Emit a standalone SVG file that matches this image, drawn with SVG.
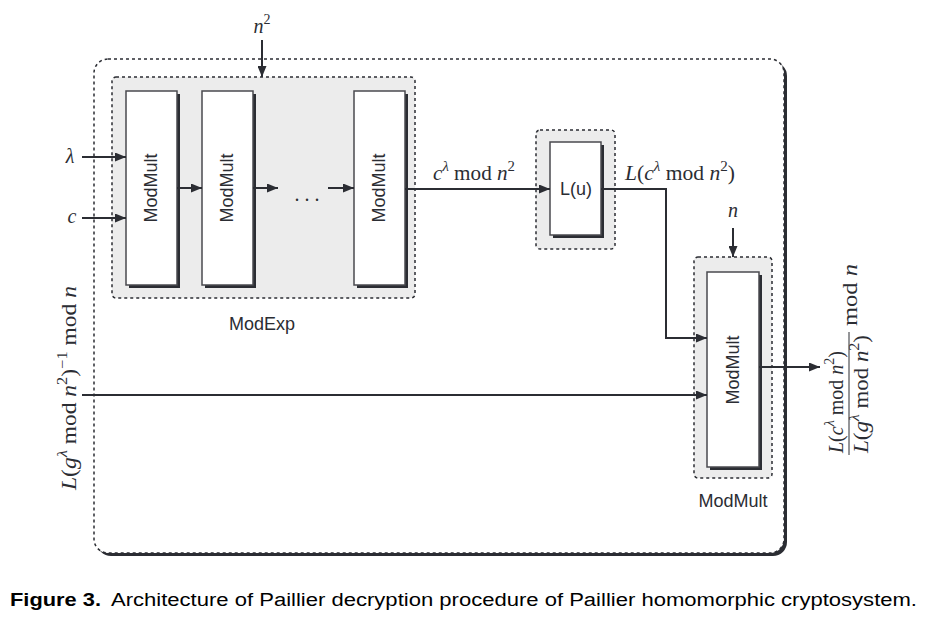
<svg xmlns="http://www.w3.org/2000/svg" width="927" height="621" viewBox="0 0 927 621">
<style>
.shadow{fill:#2b2d33}
.grp{fill:#ececec;stroke:#2b2d33;stroke-width:1.5;stroke-dasharray:3 3}
.outer{fill:#ffffff;stroke:#2b2d33;stroke-width:1.5;stroke-dasharray:3 3}
.box{fill:#ffffff;stroke:#4a4a4f;stroke-width:1.5}
.conn{fill:none;stroke:#2b2d33;stroke-width:2}
.sans{font-family:"Liberation Sans","DejaVu Sans",sans-serif;font-size:18px;fill:#2b2d33}
.math{font-family:"Liberation Serif","DejaVu Serif",serif;font-size:20px;fill:#2b2d33}
.it{font-style:italic}
.sup{font-size:14px}
.cap{font-family:"Liberation Sans",Arial,sans-serif;font-size:18px;fill:#000000}
</style>
<defs>
<marker id="ah" markerWidth="11" markerHeight="9" refX="11" refY="4.5" orient="auto" markerUnits="userSpaceOnUse">
<path d="M0,0 L11,4.5 L0,9 z" fill="#2b2d33"/>
</marker>
</defs>

<g id="outer">
<rect class="shadow" x="97" y="62" width="690" height="494" rx="14"/>
<rect class="outer" x="94" y="59" width="690" height="494" rx="14"/>
</g>

<g id="modexp">
<rect class="grp" x="112" y="77" width="303" height="221" rx="4"/>
<text class="sans" x="262" y="330" text-anchor="middle">ModExp</text>
</g>

<g id="modmult1">
<rect class="shadow" x="129" y="94" width="51" height="194"/>
<rect class="box" x="126" y="91" width="51" height="194"/>
<text class="sans" transform="translate(157,188) rotate(-90)" text-anchor="middle">ModMult</text>
</g>
<g id="modmult2">
<rect class="shadow" x="205" y="94" width="51" height="194"/>
<rect class="box" x="202" y="91" width="51" height="194"/>
<text class="sans" transform="translate(233,188) rotate(-90)" text-anchor="middle">ModMult</text>
</g>
<g id="dots">
<text class="math" x="307" y="201" text-anchor="middle">. . .</text>
</g>
<g id="modmult3">
<rect class="shadow" x="357" y="94" width="51" height="194"/>
<rect class="box" x="354" y="91" width="51" height="194"/>
<text class="sans" transform="translate(385,188) rotate(-90)" text-anchor="middle">ModMult</text>
</g>

<g id="lu">
<rect class="grp" x="536" y="130" width="79" height="119" rx="4"/>
<rect class="shadow" x="553" y="145" width="51" height="93"/>
<rect class="box" x="550" y="142" width="51" height="93"/>
<text class="sans" x="576" y="195" text-anchor="middle">L(u)</text>
</g>

<g id="modmult-final">
<rect class="grp" x="694" y="257" width="78" height="221" rx="4"/>
<rect class="shadow" x="710" y="275" width="52" height="195"/>
<rect class="box" x="707" y="272" width="52" height="195"/>
<text class="sans" transform="translate(739,370) rotate(-90)" text-anchor="middle">ModMult</text>
<text class="sans" x="733" y="507" text-anchor="middle">ModMult</text>
</g>

<g id="labels">
<text class="math it" x="262" y="33" text-anchor="middle">n<tspan class="sup" dy="-9" font-style="normal">2</tspan></text>
<text class="math it" x="70" y="163" text-anchor="middle">λ</text>
<text class="math it" x="72" y="223" text-anchor="middle">c</text>
<text class="math" x="433" y="180" textLength="82" lengthAdjust="spacingAndGlyphs"><tspan class="it">c</tspan><tspan class="sup it" dy="-9">λ</tspan><tspan dy="9"> mod </tspan><tspan class="it">n</tspan><tspan class="sup" dy="-9">2</tspan></text>
<text class="math" x="625" y="180" textLength="110" lengthAdjust="spacingAndGlyphs"><tspan class="it">L</tspan>(<tspan class="it">c</tspan><tspan class="sup it" dy="-9">λ</tspan><tspan dy="9"> mod </tspan><tspan class="it">n</tspan><tspan class="sup" dy="-9">2</tspan><tspan dy="9">)</tspan></text>
<text class="math it" x="733" y="217" text-anchor="middle">n</text>
<text class="math" transform="translate(76,490) rotate(-90)" textLength="204" lengthAdjust="spacingAndGlyphs"><tspan class="it">L</tspan>(<tspan class="it">g</tspan><tspan class="sup it" dy="-9">λ</tspan><tspan dy="9"> mod </tspan><tspan class="it">n</tspan><tspan class="sup" dy="-9">2</tspan><tspan dy="9">)</tspan><tspan class="sup" dy="-9">−1</tspan><tspan dy="9"> mod </tspan><tspan class="it">n</tspan></text>
<g transform="translate(849,392) rotate(-90)">
<text class="math" x="-61" y="-6" textLength="102" lengthAdjust="spacingAndGlyphs"><tspan class="it">L</tspan>(<tspan class="it">c</tspan><tspan class="sup it" dy="-9">λ</tspan><tspan dy="9"> mod </tspan><tspan class="it">n</tspan><tspan class="sup" dy="-9">2</tspan><tspan dy="9">)</tspan></text>
<line x1="-63" y1="0" x2="60" y2="0" stroke="#2b2d33" stroke-width="1"/>
<text class="math" x="-61" y="19" textLength="118" lengthAdjust="spacingAndGlyphs"><tspan class="it">L</tspan>(<tspan class="it">g</tspan><tspan class="sup it" dy="-9">λ</tspan><tspan dy="9"> mod </tspan><tspan class="it">n</tspan><tspan class="sup" dy="-9">2</tspan><tspan dy="9">)</tspan></text>
<text class="math" x="66" y="8" textLength="62" lengthAdjust="spacingAndGlyphs"> mod <tspan class="it">n</tspan></text>
</g>
</g>

<g id="connectors">
<path class="conn" d="M82,157 H126" marker-end="url(#ah)"/>
<path class="conn" d="M82,218 H126" marker-end="url(#ah)"/>
<path class="conn" d="M262,40 V77" marker-end="url(#ah)"/>
<path class="conn" d="M177,188 H202" marker-end="url(#ah)"/>
<path class="conn" d="M253,188 H278" marker-end="url(#ah)"/>
<path class="conn" d="M328,188 H354" marker-end="url(#ah)"/>
<path class="conn" d="M405,189 H550" marker-end="url(#ah)"/>
<path class="conn" d="M601,189 H666 V338 H707" marker-end="url(#ah)"/>
<path class="conn" d="M733,228 V257" marker-end="url(#ah)"/>
<path class="conn" d="M82,395 H707" marker-end="url(#ah)"/>
<path class="conn" d="M759,367 H820" marker-end="url(#ah)"/>
</g>

<g id="caption">
<text class="cap" x="10" y="606" font-weight="bold" textLength="91" lengthAdjust="spacingAndGlyphs">Figure 3.</text>
<text class="cap" x="111" y="606" textLength="806" lengthAdjust="spacingAndGlyphs">Architecture of Paillier decryption procedure of Paillier homomorphic cryptosystem.</text>
</g>
</svg>
